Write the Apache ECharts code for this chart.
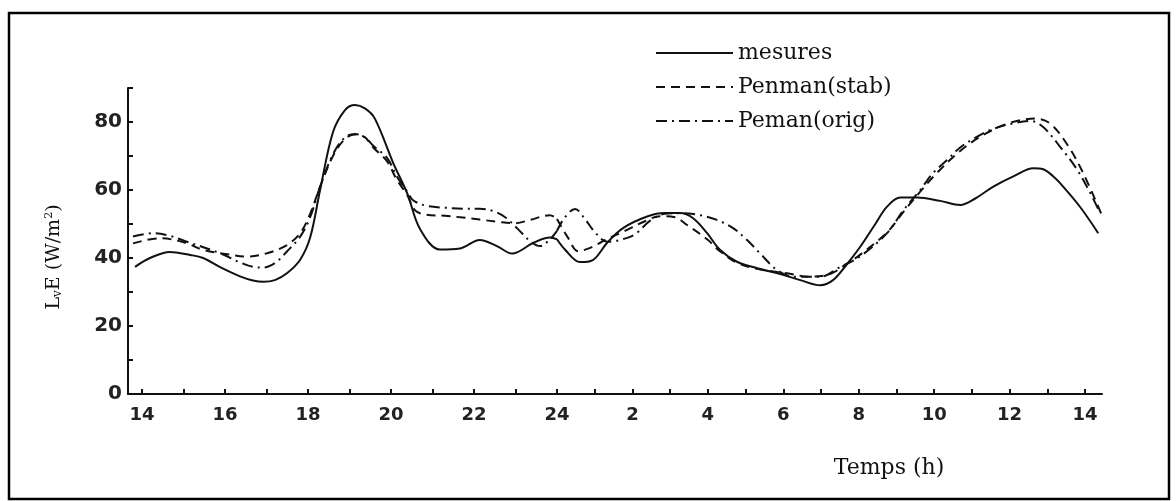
<!DOCTYPE html>
<html><head><meta charset="utf-8">
<script src="https://cdn.jsdelivr.net/npm/echarts@6/dist/echarts.min.js"></script>
<style>html,body{margin:0;background:#fff}#c{width:1176px;height:501px}</style>
</head><body><div id="c"></div>
<script>
// x = hours elapsed since 14 h (0 -> 14 h, 10 -> 24 h, 24 -> 14 h next day)
const mesures = [
  [-0.17,37.4],[0.19,40.0],[0.67,41.8],[1.16,40.9],[1.47,40.0],[1.88,37.3],[2.36,34.6],[2.67,33.4],
  [2.92,33.0],[3.20,33.5],[3.49,35.5],[3.81,39.5],[4.05,46],[4.29,60],[4.60,77],[4.89,83.5],
  [5.13,85],[5.37,84],[5.61,81],[6.05,68],[6.39,59],[6.70,48.5],[7.18,42.5],[7.66,42.8],
  [8.14,45.3],[8.55,43.5],[8.92,41.3],[9.42,44.4],[9.83,46],[10.0,45.5],[10.21,42.5],[10.61,38.8],
  [10.95,39.4],[11.33,44.5],[11.75,48.8],[12.39,52.2],[12.86,53.2],[13.26,53.2],[13.61,51.7],[13.98,47.3],
  [14.32,42.4],[14.77,38.9],[15.31,37],[15.92,35.3],[16.45,33.5],[16.98,32],[17.32,33.5],[17.64,37.5],
  [18.04,43.3],[18.44,50],[18.75,55.1],[19.10,57.8],[19.55,57.8],[20.16,56.8],[20.69,55.6],[21.09,57.5],
  [21.57,61],[22.10,64],[22.63,66.4],[22.89,66.1],[23.16,64],[23.34,62],[23.87,55],[24.35,47.3]
];
const penmanStab = [
  [-0.22,44.3],[0.43,45.8],[1.04,44.5],[1.47,42.4],[2.0,41.2],[2.53,40.4],[3.01,41.4],[3.49,43.8],
  [3.81,47.3],[4.05,53],[4.29,61],[4.60,70],[4.89,75],[5.13,76.3],[5.37,75.5],[5.57,72.5],
  [5.90,68.5],[6.14,63],[6.39,58.5],[6.58,54],[6.82,52.8],[7.30,52.4],[7.73,51.9],[8.14,51.3],
  [8.55,50.7],[8.99,50.2],[9.35,51.2],[9.83,52.6],[10.0,51.5],[10.29,46],[10.56,42],[10.88,43],
  [11.28,45.3],[11.80,48],[12.33,50.8],[12.73,52.3],[13.13,52],[13.45,49.7],[13.98,45.5],[14.32,42],
  [14.77,38.6],[15.31,36.8],[16.10,35.5],[16.71,34.5],[17.24,35.3],[17.64,38],[18.04,41],[18.75,47.5],
  [19.18,53.5],[19.63,59.5],[20.03,64.5],[20.69,71.5],[21.35,76.5],[22.02,79.8],[22.68,81],[23.08,79.5],
  [23.55,73],[23.95,65],[24.45,52.5]
];
const pemanOrig = [
  [-0.22,46.3],[0.27,47.3],[0.67,46.5],[1.08,44.8],[1.88,41.4],[2.36,38.7],[2.67,37.4],[2.92,37.2],
  [3.20,38.5],[3.49,41.9],[3.81,46.3],[4.05,52],[4.29,61],[4.60,70.5],[4.89,75.5],[5.13,76.5],
  [5.37,75.5],[5.57,73],[5.90,69.5],[6.14,64],[6.39,59.5],[6.53,57],[6.87,55.3],[7.30,54.8],
  [7.73,54.5],[8.14,54.5],[8.46,53.8],[8.75,52],[9.06,48.5],[9.35,45],[9.59,43.5],[9.83,45.5],
  [10.0,48],[10.21,52],[10.48,54.4],[10.74,51.5],[11.01,47.5],[11.33,44.8],[11.67,45.3],[12.07,47],
  [12.47,51],[12.86,53],[13.34,53.2],[13.79,52.6],[14.24,51.2],[14.67,48.8],[15.04,45.3],[15.38,41.4],
  [15.83,36.5],[16.26,34.5],[16.98,34.5],[17.51,37.4],[18.04,40.5],[18.75,47.3],[19.18,54],[19.63,60],
  [19.97,65],[20.34,68.8],[20.69,72.5],[21.14,75.7],[21.57,78],[22.10,79.6],[22.55,80.3],[22.89,78.5],
  [23.34,72.7],[23.79,66],[24.14,59.1],[24.40,53.2]
];
const seriesNames = ['mesures', 'Penman(stab)', 'Peman(orig)'];
const xTicksA = [0,1,2,3,4,5,6,7,8,9,10];
const xTicksB = [11,12,13,14,15,16,17,18,19,20,21,22,23,24];
const xLabelsA = [0,2,4,6,8,10];
const xLabelsB = [12,14,16,18,20,22,24];
const yLabels = [0,20,40,60,80];

const hourLabel = v => { const h = Math.round(v) + 14; return String(h > 24 ? h - 24 : h); };
const part = (d, lo, hi) => d.filter(p => p[0] >= lo && p[0] <= hi);
const BREAK = 10;

const ink = '#111';
const labelFont = {fontFamily: 'DejaVu Sans', fontWeight: 'bold', fontSize: 18, color: '#222'};
const styles = [
  {type: 'solid', width: 2},
  {type: [9, 6], width: 2},
  {type: [11, 5, 2, 5], width: 2}
];
const datas = [mesures, penmanStab, pemanOrig];
const series = [];
datas.forEach((d, i) => {
  [[0, -1, BREAK], [1, BREAK, 99]].forEach(([g, lo, hi]) => {
    series.push({
      name: seriesNames[i], type: 'line', xAxisIndex: g, yAxisIndex: g,
      data: part(d, lo, hi), smooth: 0.35, symbol: 'none', clip: false,
      lineStyle: Object.assign({color: ink}, styles[i]), itemStyle: {color: ink}
    });
  });
});

const xAxisBase = (g, min, max, ticks, labels) => ({
  gridIndex: g, type: 'value', min: min, max: max,
  axisLine: {onZero: false, lineStyle: {color: ink, width: 2}},
  axisTick: {inside: true, length: 5, customValues: ticks, lineStyle: {color: ink, width: 2}},
  axisLabel: Object.assign({customValues: labels, formatter: hourLabel, margin: 12}, labelFont),
  splitLine: {show: false}
});

const chart = echarts.init(document.getElementById('c'), null, {renderer: 'canvas'});
chart.setOption({
  animation: false,
  backgroundColor: '#fff',
  graphic: [{
    type: 'rect', shape: {x: 9, y: 13, width: 1160, height: 486},
    style: {fill: 'none', stroke: '#000', lineWidth: 2.5}, z: 100
  }],
  legend: {
    data: seriesNames, orient: 'vertical', left: 650, top: 37,
    itemWidth: 77, itemHeight: 14, itemGap: 12,
    itemStyle: {opacity: 0},
    textStyle: {fontFamily: 'DejaVu Serif', fontSize: 22, color: ink}
  },
  grid: [
    {left: 128, top: 88, width: 429, height: 306},
    {left: 557, top: 88, width: 545, height: 306}
  ],
  xAxis: [
    xAxisBase(0, -0.34, BREAK, xTicksA, xLabelsA),
    Object.assign(xAxisBase(1, BREAK, 24.45, xTicksB, xLabelsB), {
      name: 'Temps (h)', nameLocation: 'middle', nameGap: 63,
      nameTextStyle: {fontFamily: 'DejaVu Serif', fontSize: 22, color: ink, padding: [0, 0, 0, 119]}
    })
  ],
  yAxis: [
    {
      gridIndex: 0, type: 'value', min: 0, max: 90, interval: 10,
      axisLine: {show: true, onZero: false, lineStyle: {color: ink, width: 2}},
      axisTick: {show: true, inside: true, length: 5, lineStyle: {color: ink, width: 2}},
      axisLabel: Object.assign({customValues: yLabels, margin: 6}, labelFont, {fontSize: 20}),
      splitLine: {show: false},
      name: '{a|L}{s|v}{a|E (W/m}{p|2}{a|)}', nameLocation: 'middle', nameGap: 64, nameRotate: 90,
      nameTextStyle: {
        padding: [0, 32, 0, 0],
        rich: {
          a: {fontFamily: 'DejaVu Serif', fontSize: 19, color: ink},
          s: {fontFamily: 'DejaVu Serif', fontSize: 12, color: ink, verticalAlign: 'bottom', padding: [8, 0, 0, 0]},
          p: {fontFamily: 'DejaVu Serif', fontSize: 11, color: ink, verticalAlign: 'top', padding: [0, 0, 8, 0]}
        }
      }
    },
    {gridIndex: 1, type: 'value', min: 0, max: 90, show: false}
  ],
  series: series
});
</script></body></html>
